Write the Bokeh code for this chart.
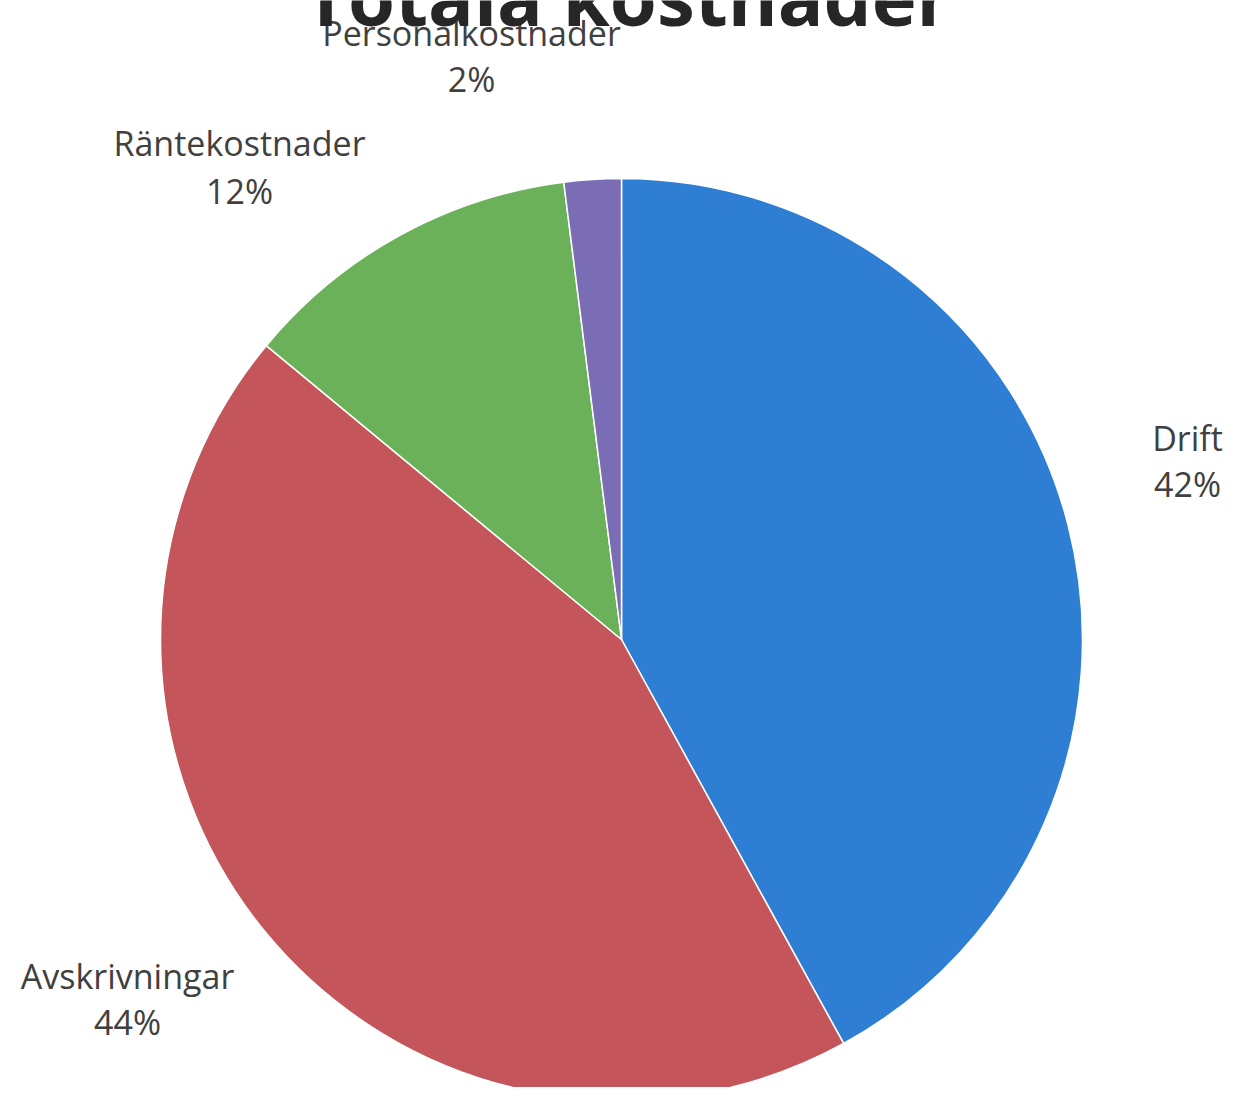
import math
from bokeh.plotting import figure
from bokeh.models import Range1d, ColumnDataSource, Label
from bokeh.core.properties import value
from bokeh.embed import file_html
from bokeh.resources import INLINE

# ---- data ----
title_text = "Totala kostnader"
categories = ["Drift", "Avskrivningar", "Räntekostnader", "Personalkostnader"]
shares = [42, 44, 12, 2]
colors = ["#2E7FD3", "#C4555A", "#6AB15A", "#7A6DB6"]

# ---- layout (page pixels, converted to data coords) ----
W, H = 1227, 1087
LABEL_FS = 34
TITLE_FS = 76

def dx(X):
    return X

def dy(Y):
    return H - Y

def ty(Y, fs):
    # text baseline compensation
    return H - (Y - 0.42 * fs)

cx, cy, R = dx(621), dy(639), 461
label_pos = {  # center x, name baseline y, pct baseline y (page pixels)
    "Drift": (1187, 452, 498),
    "Avskrivningar": (127, 990, 1036),
    "Räntekostnader": (239, 157, 205),
    "Personalkostnader": (471, 47, 93),
}

total = float(sum(shares))
starts, ends = [], []
cum = 0.0
for v in shares:
    a0 = math.pi / 2 - 2 * math.pi * (cum + v) / total
    a1 = math.pi / 2 - 2 * math.pi * cum / total
    starts.append(a0)
    ends.append(a1)
    cum += v

src = ColumnDataSource(dict(x=[cx] * len(shares), y=[cy] * len(shares),
                            start=starts, end=ends, color=colors, cat=categories))

p = figure(width=W, height=H, x_range=Range1d(0, W), y_range=Range1d(0, H),
           output_backend="svg", toolbar_location=None, min_border=0)
p.axis.visible = False
p.grid.visible = False
p.outline_line_color = None
p.background_fill_color = "white"
p.border_fill_color = "white"

p.wedge(x="x", y="y", radius=R, start_angle="start", end_angle="end",
        fill_color="color", line_color="white", line_width=1.5, source=src)

# title (partially cut at the top as in the reference)
p.add_layout(Label(x=dx(627), y=ty(28, TITLE_FS), text=title_text,
                   text_align="center", text_baseline="alphabetic",
                   text_font="Open Sans", text_font_style="bold",
                   text_font_size=f"{TITLE_FS}px", text_color="#262626"))

names_x, names_y, pct_y, pct_txt = [], [], [], []
for c, v in zip(categories, shares):
    X, Yn, Yp = label_pos[c]
    names_x.append(dx(X))
    names_y.append(ty(Yn, LABEL_FS))
    pct_y.append(ty(Yp, LABEL_FS))
    pct_txt.append(f"{v}%")

p.text(x=names_x, y=names_y, text=categories, text_align="center",
       text_baseline="alphabetic", text_font=value("Open Sans"),
       text_font_size=f"{LABEL_FS}px", text_color="#404040")
p.text(x=names_x, y=pct_y, text=pct_txt, text_align="center",
       text_baseline="alphabetic", text_font=value("Open Sans"),
       text_font_size=f"{LABEL_FS}px", text_color="#404040")

open("out.html", "w").write(file_html(p, INLINE))
